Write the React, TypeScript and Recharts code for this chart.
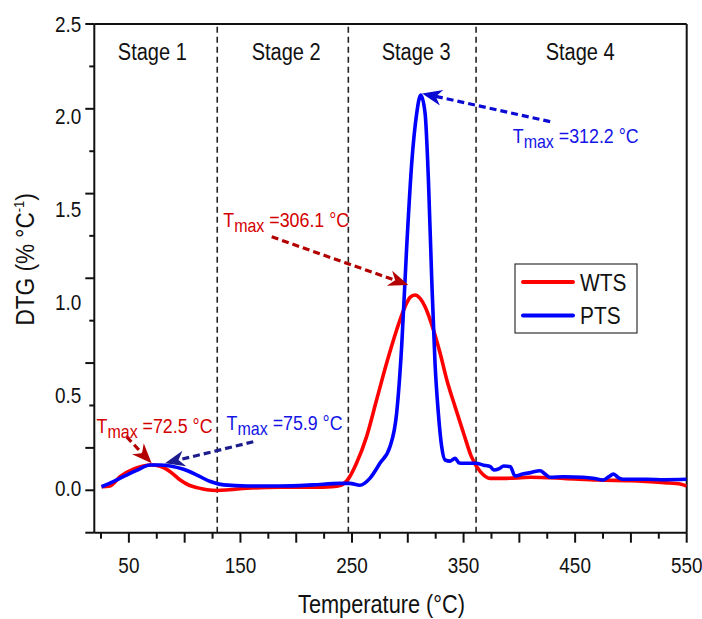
import React from 'react';
import { LineChart, Line, XAxis, YAxis, ReferenceLine, ReferenceDot, Legend } from 'recharts';

// DTG curves (temperature in °C, DTG in % °C-1)
const wtsTemp = [25.5, 33, 42, 54, 62, 70, 78, 87, 96, 104, 112, 120, 129, 140, 156, 185, 215, 232, 240, 247, 254, 263, 272, 281, 290, 297.5, 302, 306.5, 311, 315.5, 323, 329, 335, 342.5, 350, 357, 365, 374, 386, 410, 440, 470, 500, 530, 545, 550];
const wtsDtg = [0.012, 0.016, 0.066, 0.106, 0.122, 0.129, 0.122, 0.093, 0.048, 0.02, 0.006, -0.004, -0.008, -0.004, 0.004, 0.009, 0.009, 0.012, 0.02, 0.057, 0.138, 0.28, 0.478, 0.676, 0.855, 0.98, 1.03, 1.043, 1.025, 0.98, 0.855, 0.73, 0.586, 0.44, 0.3, 0.174, 0.093, 0.057, 0.057, 0.063, 0.057, 0.048, 0.045, 0.034, 0.026, 0.016];

const ptsTemp = [25.5, 36, 45, 57, 69, 78, 87, 99, 111, 123, 135, 156, 185, 215, 239, 248, 257, 266, 275, 284, 290, 294.5, 299, 303.5, 308, 311.6, 315.5, 318.5, 321.5, 324.4, 327.4, 330.4, 333.4, 338, 342.4, 346, 350, 361, 368, 374, 377, 382, 386, 392, 396, 403, 410, 418.6, 423, 427.6, 439.5, 457, 466, 475, 480, 484.4, 489, 493, 514, 530, 550];
const ptsDtg = [0.012, 0.04, 0.066, 0.1, 0.129, 0.129, 0.124, 0.106, 0.075, 0.04, 0.022, 0.016, 0.016, 0.022, 0.03, 0.03, 0.02, 0.057, 0.138, 0.227, 0.407, 0.765, 1.3, 1.75, 2.02, 2.118, 2.02, 1.66, 1.12, 0.676, 0.407, 0.227, 0.156, 0.15, 0.165, 0.14, 0.138, 0.138, 0.128, 0.12, 0.102, 0.11, 0.124, 0.12, 0.07, 0.08, 0.088, 0.098, 0.08, 0.063, 0.066, 0.063, 0.058, 0.048, 0.065, 0.08, 0.06, 0.052, 0.052, 0.05, 0.052];

const seriesNames = ['WTS', 'PTS'];

const stageLimits = [129.2, 246.7, 361.2];
const stageNames = ['Stage 1', 'Stage 2', 'Stage 3', 'Stage 4'];
const stageCenters = [71, 191, 307.5, 454.5];

const xTicks = [25, 50, 75, 100, 125, 150, 175, 200, 225, 250, 275, 300, 325, 350, 375, 400, 425, 450, 475, 500, 525, 550];
const xLabels = [50, 150, 250, 350, 450, 550];
const yLabels = [0, 0.5, 1, 1.5, 2, 2.5];
// tick marks on the y axis do not line up with the labels in the original
const yMarks = [2.5, 2.272, 2.044, 1.816, 1.588, 1.361, 1.133, 0.905, 0.677, 0.449, 0.221, -0.007, -0.235];
const yMinor = [2.272, 1.816, 1.361, 0.905, 0.449];

const peakNotes = [
  { id: 'w1', text: '=72.5 °C', color: '#d40000', arrow: '#b30000', at: [21, 0.2995], from: [47.9, 0.281], to: [70.4, 0.138] },
  { id: 'p1', text: '=75.9 °C', color: '#1414e6', arrow: '#1c1c8e', at: [137.6, 0.317], from: [161.5, 0.254], to: [82.3, 0.138] },
  { id: 'w3', text: '=306.1 °C', color: '#d40000', arrow: '#b30000', at: [134.6, 1.407], from: [178, 1.356], to: [300.5, 1.097] },
  { id: 'p3', text: '=312.2 °C', color: '#1414e6', arrow: '#0a0ad2', at: [394.1, 1.858], from: [427.6, 1.975], to: [312.8, 2.127] },
];

const wtsRows = wtsTemp.map((t, i) => ({ t, v: wtsDtg[i] }));
const ptsRows = ptsTemp.map((t, i) => ({ t, v: ptsDtg[i] }));
const yTicks = Array.from(new Set([...yMarks, ...yLabels]));

const ink = '#111';
const font = "'Liberation Sans', Arial, Helvetica, sans-serif";

function XTick({ x, y, payload }: any) {
  const v = payload.value;
  const major = v % 50 === 0;
  return (
    <g>
      <line x1={x} x2={x} y1={y} y2={y + (major ? 10 : 6)} stroke={ink} strokeWidth={2} />
      {xLabels.includes(v) && (
        <text transform={`translate(${x},${y + 40}) scale(0.86,1)`} textAnchor="middle" fontSize={22} fill={ink} fontFamily={font}>
          {v}
        </text>
      )}
    </g>
  );
}

function YTick({ x, y, payload }: any) {
  const v = payload.value;
  const len = yMinor.includes(v) ? 5 : 9;
  return (
    <g>
      {yMarks.includes(v) && <line x1={x - len} x2={x} y1={y} y2={y} stroke={ink} strokeWidth={2} />}
      {yLabels.includes(v) && (
        <text transform={`translate(${x - 13},${y + 7.5}) scale(0.86,1)`} textAnchor="end" fontSize={22} fill={ink} fontFamily={font}>
          {v.toFixed(1)}
        </text>
      )}
    </g>
  );
}

const arrowShape = (color: string) => (p: any) => {
  const { x1, y1, x2, y2 } = p;
  const dx = x2 - x1;
  const dy = y2 - y1;
  const len = Math.hypot(dx, dy) || 1;
  const ux = dx / len;
  const uy = dy / len;
  const nx = -uy;
  const ny = ux;
  const L = 20, W = 8, N = 6;
  const bx = x2 - ux * L;
  const by = y2 - uy * L;
  const mx = x2 - ux * (L - N);
  const my = y2 - uy * (L - N);
  return (
    <g>
      <line x1={x1} y1={y1} x2={mx} y2={my} stroke={color} strokeWidth={3.2} strokeDasharray="7 4" />
      <polygon points={`${x2},${y2} ${bx + nx * W},${by + ny * W} ${mx},${my} ${bx - nx * W},${by - ny * W}`} fill={color} />
    </g>
  );
};

const tmaxShape = (text: string, color: string) => (p: any) => (
  <text transform={`translate(${p.cx},${p.cy}) scale(0.89,1)`} fill={color} fontSize={20} fontFamily={font}>
    T
    <tspan fontSize={18} dy={5}>max</tspan>
    <tspan dy={-5}>{' ' + text}</tspan>
  </text>
);

const stageShape = (name: string) => (p: any) => (
  <text transform={`translate(${p.cx},${p.cy}) scale(0.87,1)`} textAnchor="middle" fontSize={23} fill={ink} fontFamily={font}>
    {name}
  </text>
);

function LegendBox({ payload }: any) {
  const items = seriesNames
    .map((n) => (payload || []).find((p: any) => p.value === n))
    .filter(Boolean);
  return (
    <svg width={124} height={71} style={{ display: 'block' }}>
      <rect x={1} y={1} width={122} height={69} fill="#fff" stroke="#333" strokeWidth={1.2} />
      {items.map((item: any, i: number) => (
        <g key={item.value}>
          <line x1={9} x2={59} y1={19 + i * 33.4} y2={19 + i * 33.4} stroke={item.color} strokeWidth={4} strokeLinecap="round" />
          <text transform={`translate(66,${27.5 + i * 33.4}) scale(0.87,1)`} fontSize={24} fill={ink} fontFamily={font}>
            {item.value}
          </text>
        </g>
      ))}
    </svg>
  );
}

const xTitle = (props: any) => {
  const vb = props.viewBox;
  return (
    <text transform={`translate(${vb.x + vb.width / 2 - 9},${vb.y + 80}) scale(0.87,1)`} textAnchor="middle" fontSize={25} fill={ink} fontFamily={font}>
      Temperature (°C)
    </text>
  );
};

const yTitle = (props: any) => {
  const vb = props.viewBox;
  return (
    <text transform={`translate(${vb.x - 9},${vb.y + vb.height / 2 - 19}) rotate(-90) scale(0.87,1)`} textAnchor="middle" y={9} fontSize={26} fill={ink} fontFamily={font}>
      DTG (% °C<tspan fontSize={15} dy={-10}>-1</tspan><tspan dy={10}>)</tspan>
    </text>
  );
};

export default function App() {
  return (
    <div style={{ position: 'absolute', left: 0, top: 0, background: '#fff' }}>
      <LineChart width={702} height={619} margin={{ top: 24, right: 15.3, left: 34.3, bottom: 56.3 }}>
        <XAxis
          type="number"
          dataKey="t"
          domain={[19, 550]}
          allowDataOverflow
          ticks={xTicks}
          interval={0}
          tick={<XTick />}
          tickLine={false}
          tickSize={0}
          tickMargin={0}
          height={30}
          axisLine={{ stroke: ink, strokeWidth: 2 }}
          label={xTitle}
        />
        <YAxis
          type="number"
          domain={[-0.235, 2.5]}
          allowDataOverflow
          ticks={yTicks}
          interval={0}
          tick={<YTick />}
          tickLine={false}
          tickSize={0}
          tickMargin={0}
          width={60}
          axisLine={{ stroke: ink, strokeWidth: 2 }}
          label={yTitle}
        />
        <ReferenceLine y={2.5} stroke={ink} strokeWidth={2} />
        <ReferenceLine x={550} stroke={ink} strokeWidth={2} />
        {stageLimits.map((s) => (
          <ReferenceLine key={s} x={s} stroke="#222" strokeWidth={1.6} strokeDasharray="6 4" />
        ))}
        {stageNames.map((name, i) => (
          <ReferenceDot key={name} x={stageCenters[i]} y={2.309} r={0} shape={stageShape(name)} />
        ))}
        <Line data={wtsRows} dataKey="v" name="WTS" type="monotone" stroke="#f00" strokeWidth={3.6} dot={false} activeDot={false} isAnimationActive={false} />
        <Line data={ptsRows} dataKey="v" name="PTS" type="monotone" stroke="#00f" strokeWidth={3.6} dot={false} activeDot={false} isAnimationActive={false} />
        {peakNotes.map((n) => (
          <ReferenceLine
            key={n.id + 'a'}
            segment={[{ x: n.from[0], y: n.from[1] }, { x: n.to[0], y: n.to[1] }]}
            stroke={n.arrow}
            shape={arrowShape(n.arrow)}
          />
        ))}
        {peakNotes.map((n) => (
          <ReferenceDot key={n.id + 't'} x={n.at[0]} y={n.at[1]} r={0} shape={tmaxShape(n.text, n.color)} />
        ))}
        <Legend
          layout="vertical"
          align="center"
          verticalAlign="middle"
          content={<LegendBox />}
          wrapperStyle={{ left: 514, top: 263, width: 124, height: 71 }}
        />
      </LineChart>
    </div>
  );
}
